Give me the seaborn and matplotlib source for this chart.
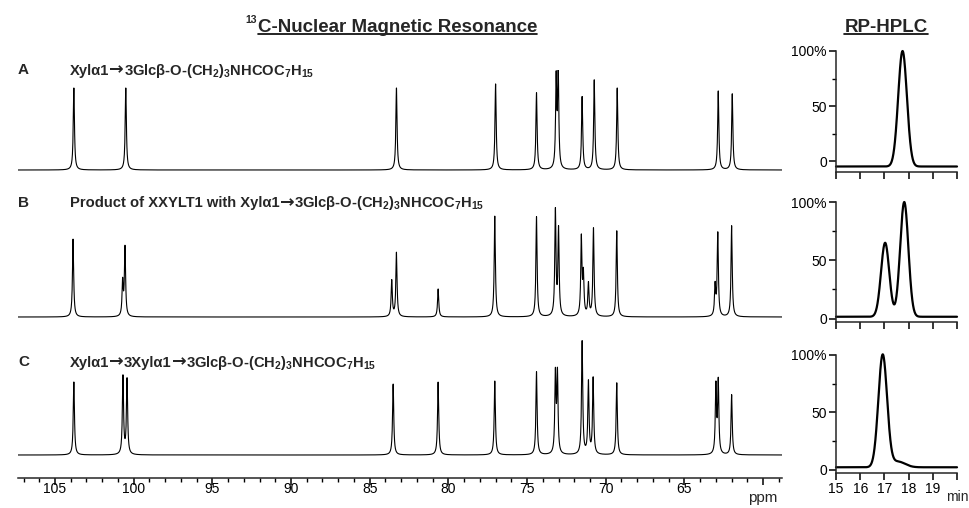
import numpy as np
import pandas as pd
import matplotlib
matplotlib.use("Agg")
import matplotlib.pyplot as plt
from matplotlib.lines import Line2D
from matplotlib.ticker import MultipleLocator, FixedLocator
from matplotlib.offsetbox import TextArea, HPacker, AnnotationBbox
import seaborn as sns

# ---- 13C NMR peak lists (ppm, height) ----
a_ppm = [103.8, 100.5, 83.3, 77.0, 74.4, 73.15, 73.02, 71.5, 70.73, 69.27, 62.85, 61.96]
a_height = [82, 82, 82, 86, 77, 89, 93, 73, 90, 82, 79, 76]

b_ppm = [103.85, 100.7, 100.55, 83.6, 83.3, 80.65, 77.05, 74.4, 73.2, 73.0,
         71.55, 71.42, 71.1, 70.78, 69.3, 63.05, 62.88, 62.0]
b_height = [78, 34, 69, 36, 64, 28, 101, 100, 105, 86, 78, 40, 32, 88, 86, 30, 83, 91]

c_ppm = [103.8, 100.68, 100.42, 83.51, 80.65, 77.05, 74.4, 73.2, 73.07, 71.5,
         71.1, 70.8, 69.3, 63.0, 62.85, 62.0]
c_height = [73, 78, 75, 71, 73, 74, 83, 79, 79, 113, 72, 76, 72, 68, 72, 60]

nmr_labels = ["A", "B", "C"]
nmr_titles = [
    "Xylα1→3Glcβ-O-(CH$_2$)$_3$NHCOC$_7$H$_{15}$",
    "Product of XXYLT1 with Xylα1→3Glcβ-O-(CH$_2$)$_3$NHCOC$_7$H$_{15}$",
    "Xylα1→3Xylα1→3Glcβ-O-(CH$_2$)$_3$NHCOC$_7$H$_{15}$",
]

# ---- RP-HPLC peaks (retention time min, top %, width min) ----
hplc_a_rt = [17.75]
hplc_a_top = [100]
hplc_a_sd = [0.18]
hplc_a_base = -5

hplc_b_rt = [17.03, 17.82]
hplc_b_top = [65, 100]
hplc_b_sd = [0.17, 0.17]
hplc_b_base = 1.5

hplc_c_rt = [16.93, 17.55]
hplc_c_top = [100, 7]
hplc_c_sd = [0.18, 0.3]
hplc_c_base = 2

nmr_ticks = [105, 100, 95, 90, 85, 80, 75, 70, 65, 60]
hplc_ticks = [15, 16, 17, 18, 19, 20]

W, H = 970, 508
FONT = ["Liberation Sans", "DejaVu Sans"]

sns.set_theme(style="ticks")
plt.rcParams["font.family"] = FONT
plt.rcParams["mathtext.fontset"] = "custom"
plt.rcParams["mathtext.rm"] = "Liberation Sans:bold"
plt.rcParams["mathtext.it"] = "Liberation Sans:bold"
plt.rcParams["mathtext.bf"] = "Liberation Sans:bold"
plt.rcParams["axes.linewidth"] = 1.1
plt.rcParams["xtick.color"] = "black"
plt.rcParams["ytick.color"] = "black"


def rect(left, top, right, bottom):
    return [left / W, 1 - bottom / H, (right - left) / W, (bottom - top) / H]


def lorentz_spectrum(x, centers, heights, hw=0.045):
    y = np.zeros_like(x)
    for c, h in zip(centers, heights):
        y += h * hw ** 2 / ((x - c) ** 2 + hw ** 2)
    return y


def gauss_trace(t, centers, tops, sds, base):
    y = np.full_like(t, float(base))
    for c, h, s in zip(centers, tops, sds):
        y += (h - base) * np.exp(-0.5 * ((t - c) / s) ** 2)
    return y


def label_box(fig, s, x, y, size=10.6):
    # the arrow in Liberation Sans is tiny, so draw it in DejaVu Sans
    pieces = s.split("→")
    kids = []
    for k, p in enumerate(pieces):
        if k > 0:
            kids.append(TextArea("→", textprops=dict(fontsize=size + 2, fontweight="bold",
                                                     family="DejaVu Sans")))
        kids.append(TextArea(p, textprops=dict(fontsize=size, fontweight="bold")))
    box = HPacker(children=kids, sep=0, pad=0, align="baseline")
    ab = AnnotationBbox(box, (x / W, 1 - y / H), xycoords="figure fraction",
                        box_alignment=(0, 0.5), frameon=False, pad=0)
    fig.add_artist(ab)


fig = plt.figure(figsize=(W / 100, H / 100), dpi=100)

ppm = np.arange(58.8, 107.4, 0.004)
spectra = [(a_ppm, a_height), (b_ppm, b_height), (c_ppm, c_height)]
nmr_rects = [rect(18, 70, 782, 178), rect(18, 200, 782, 325), rect(18, 335, 782, 478)]
nmr_ylims = [(-8, 100), (-8, 117), (-23, 120)]
label_y = [70, 203, 362]

for i, ((cen, hts), r, yl) in enumerate(zip(spectra, nmr_rects, nmr_ylims)):
    ax = fig.add_axes(r)
    df = pd.DataFrame({"ppm": ppm, "I": lorentz_spectrum(ppm, cen, hts)})
    sns.lineplot(data=df, x="ppm", y="I", ax=ax, color="black", lw=0.8,
                 estimator=None, sort=False)
    ax.set_xlim(107.35, 58.8)
    ax.set_ylim(*yl)
    ax.set_xlabel("")
    ax.set_ylabel("")
    ax.set_yticks([])
    for s in ["top", "right", "left"]:
        ax.spines[s].set_visible(False)
    if i < 2:
        ax.spines["bottom"].set_visible(False)
        ax.set_xticks([])
    else:
        ax.xaxis.set_major_locator(FixedLocator(nmr_ticks))
        ax.xaxis.set_minor_locator(MultipleLocator(1))
        ax.set_xticklabels([str(t) for t in nmr_ticks[:-1]] + [""])
        ax.tick_params(axis="x", which="major", length=5, width=1.1,
                       labelsize=10, pad=-2)
        ax.tick_params(axis="x", which="minor", length=3, width=1)
        ax.text(60, -0.14, "ppm", transform=ax.get_xaxis_transform(),
                ha="center", va="center", fontsize=11)
    fig.text(18 / W, 1 - label_y[i] / H, nmr_labels[i], fontsize=11,
             fontweight="bold", va="center", ha="left")
    label_box(fig, nmr_titles[i], 70, label_y[i])

t = np.linspace(15, 20, 800)
traces = [
    (hplc_a_rt, hplc_a_top, hplc_a_sd, hplc_a_base),
    (hplc_b_rt, hplc_b_top, hplc_b_sd, hplc_b_base),
    (hplc_c_rt, hplc_c_top, hplc_c_sd, hplc_c_base),
]
hplc_rects = [rect(836, 51, 957, 172), rect(836, 202, 957, 322), rect(836, 355, 957, 473)]
hplc_ylims = [(-10, 100), (-3, 100), (-3, 100)]

for i, (tr, r, yl) in enumerate(zip(traces, hplc_rects, hplc_ylims)):
    ax = fig.add_axes(r)
    df = pd.DataFrame({"t": t, "A": gauss_trace(t, *tr)})
    sns.lineplot(data=df, x="t", y="A", ax=ax, color="black", lw=1.6,
                 estimator=None, sort=False, clip_on=False)
    ax.set_xlim(15, 20)
    ax.set_ylim(*yl)
    ax.set_xlabel("")
    ax.set_ylabel("")
    sns.despine(ax=ax)
    ax.xaxis.set_major_locator(FixedLocator(hplc_ticks))
    ax.yaxis.set_major_locator(FixedLocator([0, 50, 100]))
    ax.yaxis.set_minor_locator(FixedLocator([25, 75]))
    ax.set_yticklabels(["0", "50", "100%"])
    ax.tick_params(axis="both", which="major", length=5, width=1.1,
                   labelsize=10, pad=1.5)
    ax.tick_params(axis="y", which="minor", length=3, width=1)
    if i < 2:
        ax.set_xticklabels([])
    else:
        ax.set_xticklabels([str(v) for v in hplc_ticks[:-1]] + [""])
        ax.text(20.0, -0.2, "min", transform=ax.get_xaxis_transform(),
                ha="center", va="center", fontsize=10)

# headings with underline
title_nmr = fig.text(258 / W, 1 - 27 / H, "C-Nuclear Magnetic Resonance",
                     fontsize=13.5, fontweight="bold", ha="left", va="center")
fig.text(257 / W, 1 - 20 / H, "13", fontsize=7.5, fontweight="bold",
         ha="right", va="center")
title_hplc = fig.text(886 / W, 1 - 27 / H, "RP-HPLC", fontsize=13.5,
                      fontweight="bold", ha="center", va="center")

fig.canvas.draw()
renderer = fig.canvas.get_renderer()
for txt in [title_nmr, title_hplc]:
    bb = txt.get_window_extent(renderer).transformed(fig.transFigure.inverted())
    fig.add_artist(Line2D([bb.x0, bb.x1], [bb.y0 + 0.002, bb.y0 + 0.002],
                          transform=fig.transFigure, color="black", lw=1.2))

fig.savefig("out.png", dpi=100)
